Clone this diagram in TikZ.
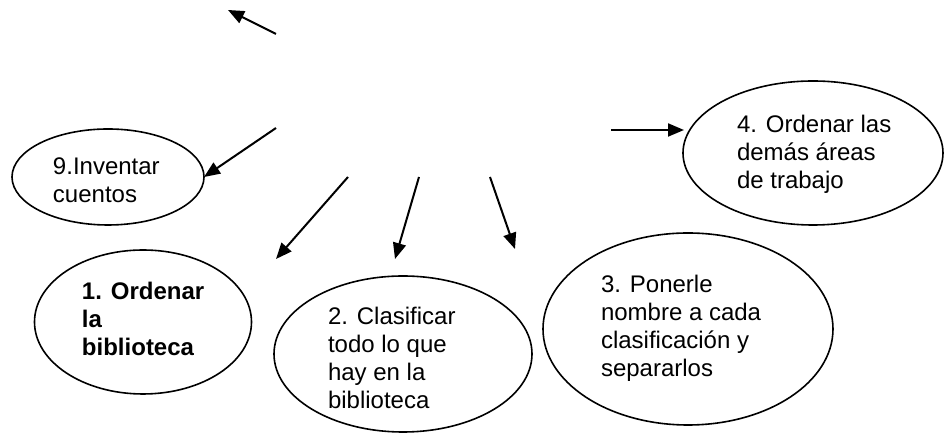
\documentclass[tikz,border=0pt]{standalone}
\usepackage{fontspec}
\setmainfont{Liberation Sans}
\usetikzlibrary{shapes.geometric,arrows.meta}
\begin{document}
\begin{tikzpicture}[x=0.5pt,y=-0.5pt,inner sep=0pt,outer sep=0pt,
>={Triangle[length=8pt,width=6.5pt]},
idea/.style={draw,ellipse,line width=0.8pt},
txt/.style={anchor=base west,align=left,font=\fontsize{12}{14}\selectfont},
flecha/.style={->,line width=1pt}]
\useasboundingbox (0,0) rectangle (944,442);
\draw (108,177) node[idea,minimum width=96pt,minimum height=48pt] (E9) {};
\draw (143,322) node[idea,minimum width=108.5pt,minimum height=72pt] (E1) {};
\draw (403,354) node[idea,minimum width=129pt,minimum height=78pt] (E2) {};
\draw (688,329) node[idea,minimum width=145pt,minimum height=96pt] (E3) {};
\draw (813,153) node[idea,minimum width=130pt,minimum height=72pt] (E4) {};

% base = ultima linea
\draw (53,203) node[txt] (T9) {9.Inventar\\cuentos};
\draw (82,356) node[txt,font=\fontsize{12}{14}\selectfont\bfseries] (T1) {1. Ordenar\\la\\biblioteca};
\begin{scope}
\clip (300,300) rectangle (560,409);
\draw (328,409) node[txt] (T2) {2. Clasificar\\todo lo que\\hay en la\\biblioteca};
\end{scope}
\draw (601,377) node[txt] (T3) {3. Ponerle\\nombre a cada\\clasificación y\\separarlos};
\draw (737,189) node[txt] (T4) {4. Ordenar las\\demás áreas\\de trabajo};

% flechas sueltas
\coordinate (s0) at (276,34);  \coordinate (p0) at (228,10);
\coordinate (s9) at (276,128);
\coordinate (s1) at (348,177); \coordinate (p1) at (276,259);
\coordinate (s2) at (419,177); \coordinate (p2) at (395,259);
\coordinate (s3) at (490,177); \coordinate (p3) at (515,249);
\coordinate (s4) at (611,130); \coordinate (p4) at (684,130);

\draw[flecha] (s0) -- (p0);
\draw[flecha] (s9) -- (E9.east);
\draw[flecha] (s1) -- (p1);
\draw[flecha] (s2) -- (p2);
\draw[flecha] (s3) -- (p3);
\draw[flecha] (s4) -- (p4);
\end{tikzpicture}
\end{document}
